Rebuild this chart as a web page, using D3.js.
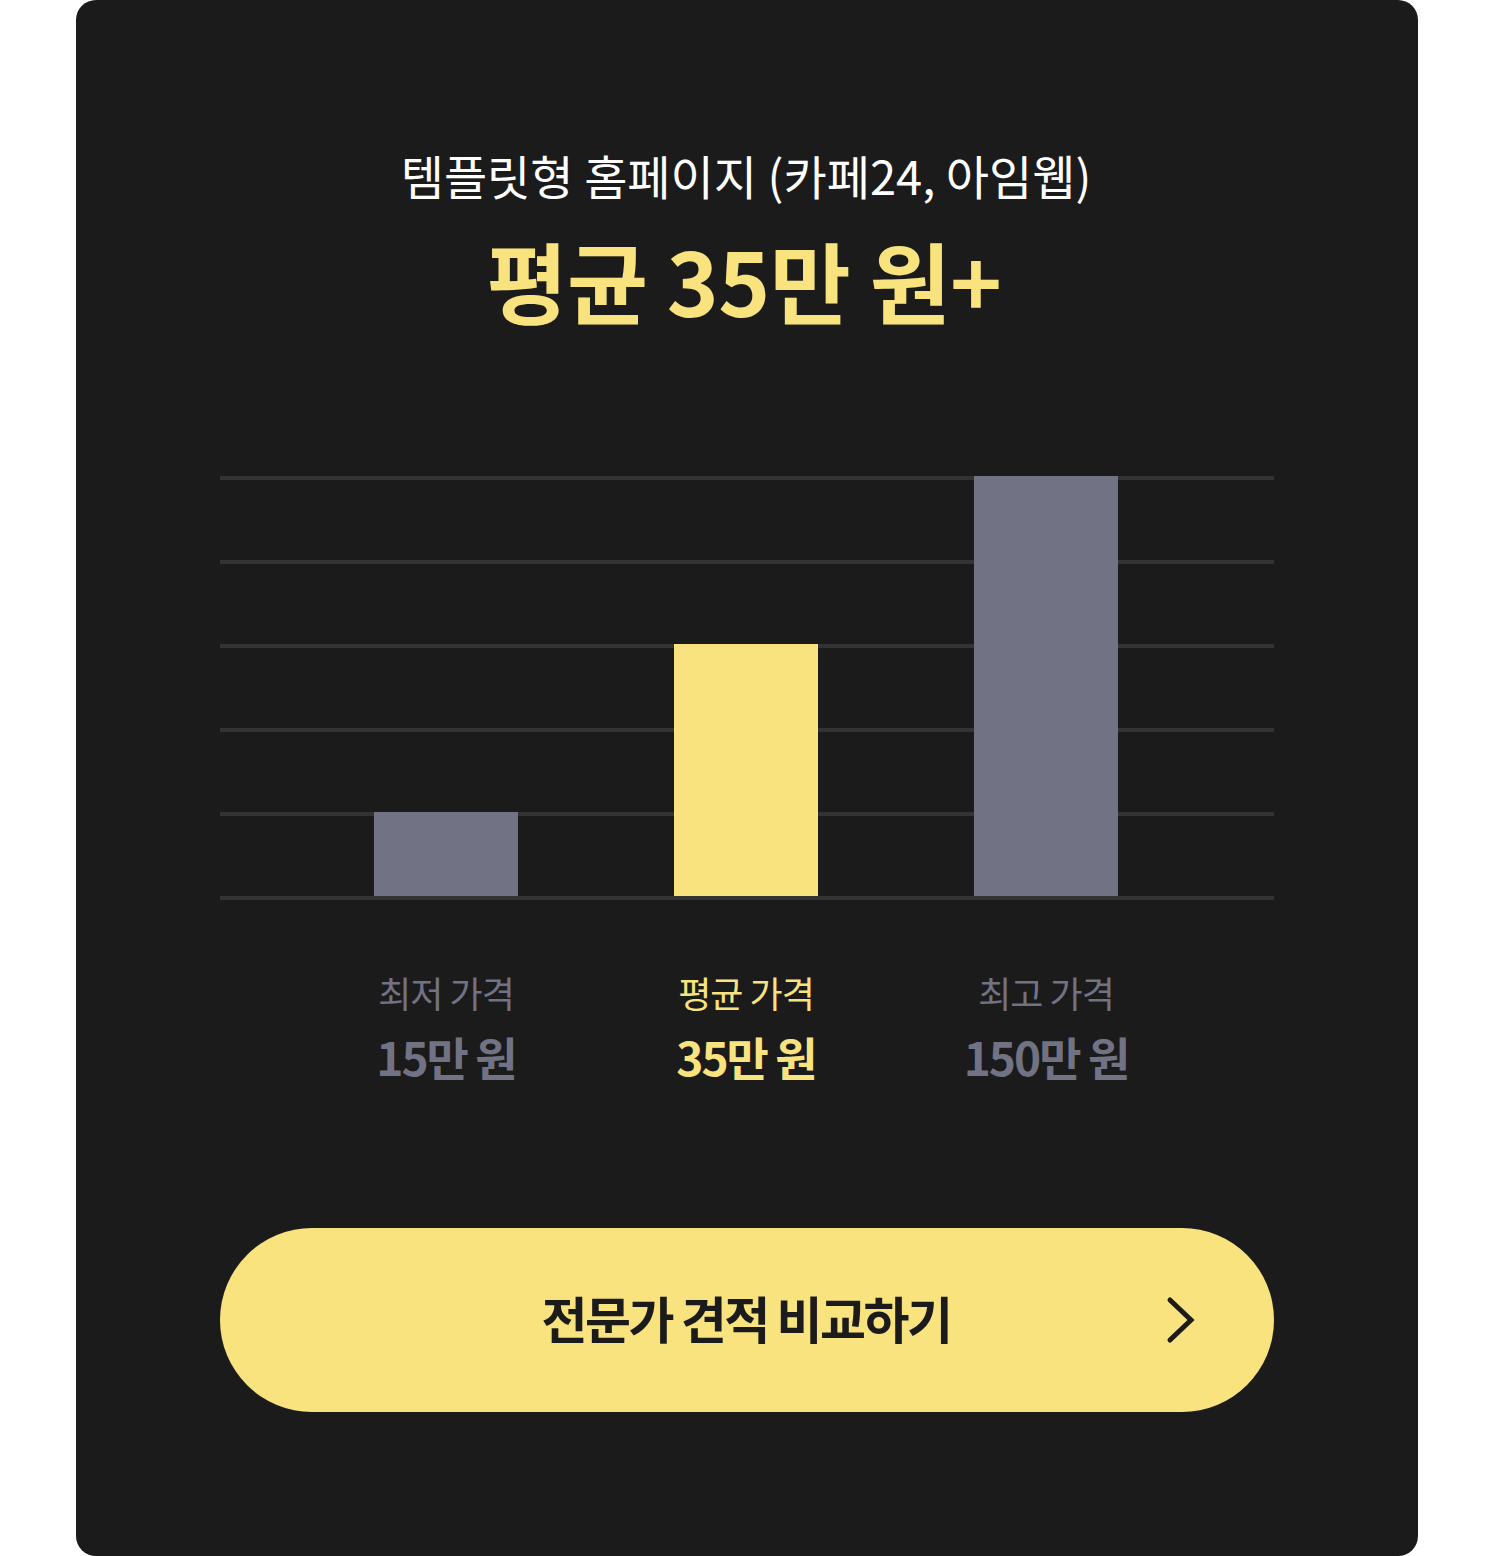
<!DOCTYPE html>
<html>
<head>
<meta charset="utf-8">
<script src="https://cdn.jsdelivr.net/npm/d3@7"></script>
<style>
  html, body { margin: 0; padding: 0; background: #ffffff; }
  svg { display: block; font-family: "Noto Sans CJK KR", "Noto Sans", sans-serif; }
</style>
</head>
<body>
<div id="chart"></div>
<script>
// chart data
const categories = ['최저 가격', '평균 가격', '최고 가격'];
const priceLabels = ['15만 원', '35만 원', '150만 원'];
const barLevels = [1, 3, 5];          // bar height in grid steps, as drawn
const gridTicks = [0, 1, 2, 3, 4, 5];
const highlight = [false, true, false];

const titleText = '템플릿형 홈페이지 (카페24, 아임웹)';
const headline = '평균 35만 원+';
const buttonText = '전문가 견적 비교하기';

const W = 1492, H = 1556;
const yellow = '#f9e37e';
const grey = '#717384';

const svg = d3.select('#chart')
    .append('svg')
    .attr('width', W)
    .attr('height', H);

// card background
svg.append('rect')
    .attr('x', 76).attr('y', 0)
    .attr('width', 1342).attr('height', H)
    .attr('rx', 20)
    .attr('fill', '#1b1b1b');

// title + headline
svg.append('text')
    .attr('x', 746).attr('y', 174)
    .attr('text-anchor', 'middle')
    .attr('dominant-baseline', 'central')
    .attr('fill', '#ffffff')
    .style('font-size', '47px')
    .style('letter-spacing', '0px')
    .text(titleText);

svg.append('text')
    .attr('x', 744).attr('y', 278)
    .attr('text-anchor', 'middle')
    .attr('dominant-baseline', 'central')
    .attr('fill', yellow)
    .style('font-size', '88px')
    .style('font-weight', 700)
    .style('letter-spacing', '-0.5px')
    .text(headline);

// scales
const x = d3.scaleBand()
    .domain(categories)
    .range([296, 1196])
    .paddingInner(0.52)
    .paddingOuter(0.26);

const y = d3.scaleLinear()
    .domain([0, 5])
    .range([896, 476]);

// gridlines
svg.append('g')
    .selectAll('rect')
    .data(gridTicks)
    .join('rect')
    .attr('x', 220)
    .attr('y', d => y(d))
    .attr('width', 1054)
    .attr('height', 4)
    .attr('fill', '#333333');

// bars
svg.append('g')
    .selectAll('rect')
    .data(barLevels)
    .join('rect')
    .attr('x', (d, i) => x(categories[i]))
    .attr('y', d => y(d))
    .attr('width', x.bandwidth())
    .attr('height', d => y(0) - y(d))
    .attr('fill', (d, i) => highlight[i] ? yellow : grey);

// category labels
svg.append('g')
    .selectAll('text')
    .data(categories)
    .join('text')
    .attr('x', d => x(d) + x.bandwidth() / 2)
    .attr('y', 992)
    .attr('text-anchor', 'middle')
    .attr('dominant-baseline', 'central')
    .attr('fill', (d, i) => highlight[i] ? yellow : grey)
    .style('font-size', '36px')
    .style('letter-spacing', '-1px')
    .text(d => d);

// price labels
svg.append('g')
    .selectAll('text')
    .data(priceLabels)
    .join('text')
    .attr('x', (d, i) => x(categories[i]) + x.bandwidth() / 2)
    .attr('y', 1056)
    .attr('text-anchor', 'middle')
    .attr('dominant-baseline', 'central')
    .attr('fill', (d, i) => highlight[i] ? yellow : grey)
    .style('font-size', '46px')
    .style('font-weight', 700)
    .style('letter-spacing', '-2px')
    .text(d => d);

// button
svg.append('rect')
    .attr('x', 220).attr('y', 1228)
    .attr('width', 1054).attr('height', 184)
    .attr('rx', 92)
    .attr('fill', yellow);

svg.append('text')
    .attr('x', 746).attr('y', 1317)
    .attr('text-anchor', 'middle')
    .attr('dominant-baseline', 'central')
    .attr('fill', '#1b1b1b')
    .style('font-size', '50px')
    .style('font-weight', 700)
    .style('letter-spacing', '-2.5px')
    .text(buttonText);

svg.append('path')
    .attr('d', 'M1170,1300 L1191,1320 L1170,1340')
    .attr('fill', 'none')
    .attr('stroke', '#1b1b1b')
    .attr('stroke-width', 5)
    .attr('stroke-linecap', 'round')
    .attr('stroke-linejoin', 'miter');
</script>
</body>
</html>
